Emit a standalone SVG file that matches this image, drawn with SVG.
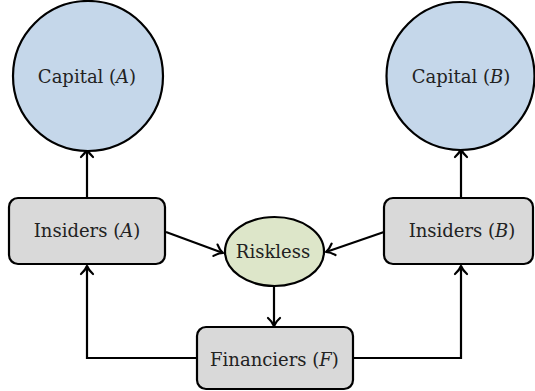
<svg xmlns="http://www.w3.org/2000/svg" width="535" height="391" viewBox="0 0 535 391">
<defs>
<marker id="arr" markerUnits="userSpaceOnUse" markerWidth="20" markerHeight="20" viewBox="-12 -10 14 20" refX="0" refY="0" orient="auto">
<path d="M-8,-6 C-5,-2.5 -2,-0.8 0,0 C-2,0.8 -5,2.5 -8,6" fill="none" stroke="#000" stroke-width="2.2" stroke-linecap="round" stroke-linejoin="round"/>
</marker>
<style>
.cap{fill:#c5d7ea;stroke:#000;stroke-width:2.2}
.box{fill:#d9d9d9;stroke:#000;stroke-width:2.2}
.risk{fill:#dde6c9;stroke:#000;stroke-width:2.2}
.lbl{font-family:"DejaVu Serif",serif;font-size:18px;fill:#222;text-anchor:middle}
.it{font-style:italic}
.con{fill:none;stroke:#000;stroke-width:2.2;marker-end:url(#arr)}
</style>
</defs>
<rect width="535" height="391" fill="#fff"/>
<g id="connectors">
<path class="con" d="M87,198 L87,149"/>
<path class="con" d="M461,198 L461,149"/>
<path class="con" d="M166,232 L223,253"/>
<path class="con" d="M384,232 L326,252"/>
<path class="con" d="M274,286 L274,326"/>
<path class="con" d="M197,358 L87,358 L87,266"/>
<path class="con" d="M353,358 L461,358 L461,266"/>
</g>
<g id="capitalA">
<circle class="cap" cx="88" cy="76" r="75"/>
<text class="lbl" x="87" y="83">Capital (<tspan class="it">A</tspan>)</text>
</g>
<g id="capitalB">
<circle class="cap" cx="460.5" cy="76" r="74"/>
<text class="lbl" x="461" y="83">Capital (<tspan class="it">B</tspan>)</text>
</g>
<g id="insidersA">
<rect class="box" x="9" y="198" width="156" height="66" rx="9"/>
<text class="lbl" x="87" y="237">Insiders (<tspan class="it">A</tspan>)</text>
</g>
<g id="insidersB">
<rect class="box" x="384" y="198" width="149" height="66" rx="9"/>
<text class="lbl" x="462" y="237">Insiders (<tspan class="it">B</tspan>)</text>
</g>
<g id="riskless">
<ellipse class="risk" cx="274.5" cy="251.5" rx="49.5" ry="34.5"/>
<text class="lbl" x="273" y="258" font-size="17">Riskless</text>
</g>
<g id="financiers">
<rect class="box" x="197" y="327" width="156" height="62" rx="9"/>
<text class="lbl" x="274.5" y="366">Financiers (<tspan class="it">F</tspan>)</text>
</g>
</svg>
